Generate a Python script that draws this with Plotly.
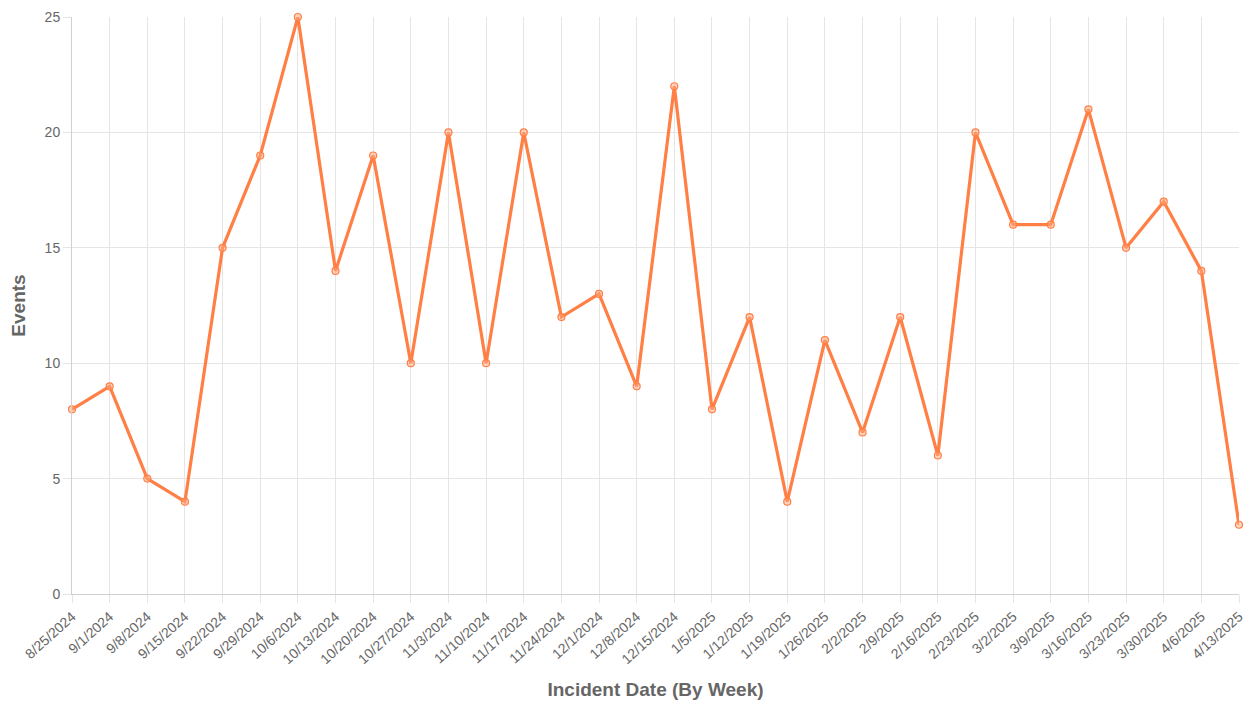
import plotly.graph_objects as go

dates = ["8/25/2024", "9/1/2024", "9/8/2024", "9/15/2024", "9/22/2024", "9/29/2024",
         "10/6/2024", "10/13/2024", "10/20/2024", "10/27/2024", "11/3/2024", "11/10/2024",
         "11/17/2024", "11/24/2024", "12/1/2024", "12/8/2024", "12/15/2024", "1/5/2025",
         "1/12/2025", "1/19/2025", "1/26/2025", "2/2/2025", "2/9/2025", "2/16/2025",
         "2/23/2025", "3/2/2025", "3/9/2025", "3/16/2025", "3/23/2025", "3/30/2025",
         "4/6/2025", "4/13/2025"]
events = [8, 9, 5, 4, 15, 19, 25, 14, 19, 10, 20, 10, 20, 12, 13, 9, 22, 8,
          12, 4, 11, 7, 12, 6, 20, 16, 16, 21, 15, 17, 14, 3]

line_color = "#ff7f45"

fig = go.Figure()
fig.add_trace(go.Scatter(
    x=dates, y=events, mode="lines+markers",
    line=dict(color=line_color, width=3.2),
    marker=dict(size=7, color="rgba(255,170,130,0.5)",
                line=dict(color=line_color, width=1.2)),
    cliponaxis=False,
))

font_family = "Liberation Sans, Arial, sans-serif"
fig.update_layout(
    width=1246, height=700,
    margin=dict(l=64, r=15, t=9, b=114, autoexpand=False),
    plot_bgcolor="white", paper_bgcolor="white",
    showlegend=False,
    font=dict(family=font_family, color="#666666", size=14),
    xaxis=dict(
        type="category", range=[0, len(dates) - 1], automargin=False,
        showgrid=True, gridcolor="#e5e5e5", gridwidth=1,
        showline=True, linecolor="#d0d0d0", linewidth=1,
        ticks="outside", ticklen=8, tickcolor="#e5e5e5",
        tickangle=-42, tickfont=dict(size=14, color="#666666"),
        title=dict(text="<b>Incident Date (By Week)</b>", font=dict(size=19, color="#666666"), standoff=16),
    ),
    yaxis=dict(
        range=[0, 25], dtick=5, automargin=False,
        showgrid=True, gridcolor="#e5e5e5", gridwidth=1,
        showline=True, linecolor="#d0d0d0", linewidth=1,
        zeroline=False,
        ticks="outside", ticklen=8, tickcolor="#e5e5e5",
        tickfont=dict(size=14, color="#666666"),
        title=dict(text="<b>Events</b>", font=dict(size=19, color="#666666"), standoff=14),
    ),
)

fig.write_html("out.html")
